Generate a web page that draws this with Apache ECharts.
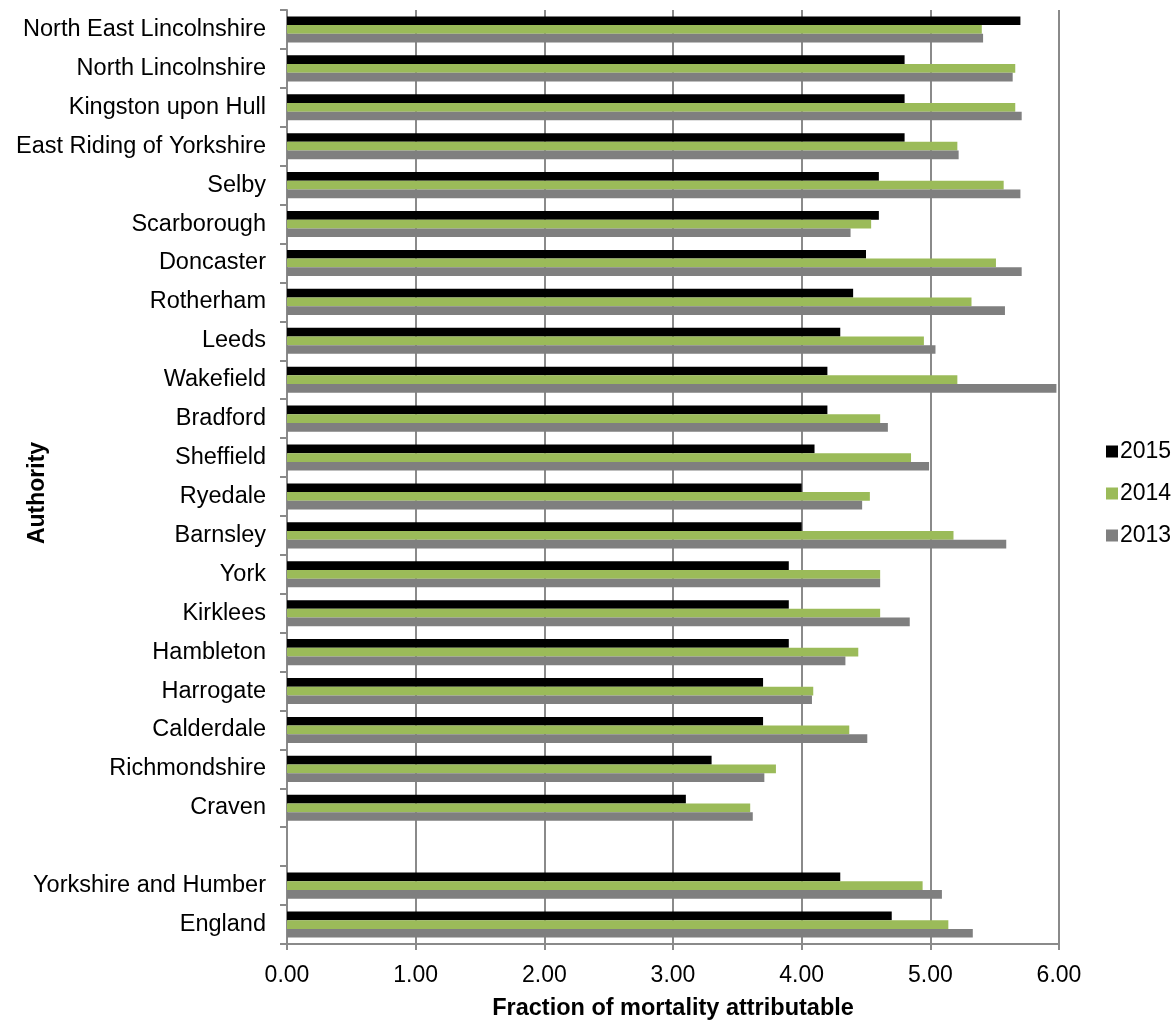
<!DOCTYPE html>
<html>
<head>
<meta charset="utf-8">
<script src="https://cdn.jsdelivr.net/npm/echarts@6/dist/echarts.min.js"></script>
<style>
html,body{margin:0;padding:0;background:#fff;}
#chart{width:1176px;height:1021px;}
</style>
</head>
<body>
<div id="chart"></div>
<script>
const categories = ['North East Lincolnshire','North Lincolnshire','Kingston upon Hull','East Riding of Yorkshire','Selby','Scarborough','Doncaster','Rotherham','Leeds','Wakefield','Bradford','Sheffield','Ryedale','Barnsley','York','Kirklees','Hambleton','Harrogate','Calderdale','Richmondshire','Craven','','Yorkshire and Humber','England'];
const values2015 = [5.70,4.80,4.80,4.80,4.60,4.60,4.50,4.40,4.30,4.20,4.20,4.10,4.00,4.00,3.90,3.90,3.90,3.70,3.70,3.30,3.10,null,4.30,4.70];
const values2014 = [5.40,5.66,5.66,5.21,5.57,4.54,5.51,5.32,4.95,5.21,4.61,4.85,4.53,5.18,4.61,4.61,4.44,4.09,4.37,3.80,3.60,null,4.94,5.14];
const values2013 = [5.41,5.64,5.71,5.22,5.70,4.38,5.71,5.58,5.04,5.98,4.67,4.99,4.47,5.59,4.61,4.84,4.34,4.08,4.51,3.71,3.62,null,5.09,5.33];
const seriesNames = ['2015','2014','2013'];
const xTicks = {min: 0, max: 6, interval: 1};

const FONT = "'Liberation Sans', Arial, sans-serif";
const GRID_COLOR = '#8a8a8a';
const colors = ['#000000', '#9BBB59', '#7F7F7F'];

const chart = echarts.init(document.getElementById('chart'), null, {renderer: 'canvas'});
const seriesData = [values2015, values2014, values2013];

chart.setOption({
  animation: false,
  backgroundColor: '#ffffff',
  textStyle: {fontFamily: FONT},
  grid: {left: 287, right: 117, top: 10, bottom: 77, containLabel: false, outerBoundsMode: 'none'},
  legend: {
    orient: 'vertical',
    left: 1101,
    top: 435,
    icon: 'rect',
    itemWidth: 12,
    itemHeight: 12,
    itemGap: 19,
    data: seriesNames,
    textStyle: {fontFamily: FONT, fontSize: 23, color: '#000', padding: [0, 0, 0, -3]}
  },
  xAxis: {
    type: 'value',
    min: xTicks.min,
    max: xTicks.max,
    interval: xTicks.interval,
    name: 'Fraction of mortality attributable',
    nameLocation: 'middle',
    nameGap: 53,
    nameTextStyle: {fontFamily: FONT, fontSize: 23.5, fontWeight: 'bold', color: '#000'},
    axisLine: {show: true, lineStyle: {color: GRID_COLOR, width: 2}},
    axisTick: {show: true, length: 6, inside: false, lineStyle: {color: GRID_COLOR, width: 2}},
    axisLabel: {fontFamily: FONT, fontSize: 23, color: '#000', margin: 20,
      formatter: v => v.toFixed(2)},
    splitLine: {show: true, lineStyle: {color: GRID_COLOR, width: 2}}
  },
  yAxis: {
    type: 'category',
    data: categories,
    inverse: true,
    name: 'Authority',
    nameLocation: 'middle',
    nameGap: 238,
    nameMoveOverlap: false,
    nameTextStyle: {fontFamily: FONT, fontSize: 23, fontWeight: 'bold', color: '#000', padding: [0, 32, 0, 0]},
    axisLine: {show: true, lineStyle: {color: GRID_COLOR, width: 2}},
    axisTick: {show: true, length: 7, inside: false, lineStyle: {color: GRID_COLOR, width: 2}},
    axisLabel: {fontFamily: FONT, fontSize: 23.5, color: '#000', margin: 21, interval: 0},
    splitLine: {show: false}
  },
  series: seriesNames.map((name, i) => ({
    name: name,
    type: 'bar',
    data: seriesData[i],
    barGap: '0%',
    barCategoryGap: '33%',
    itemStyle: {color: colors[i]}
  }))
});
</script>
</body>
</html>
